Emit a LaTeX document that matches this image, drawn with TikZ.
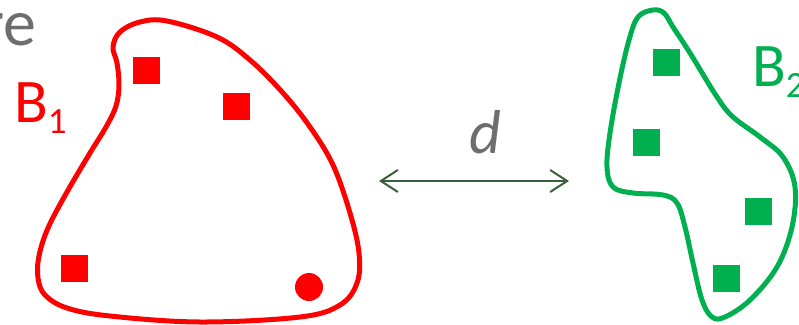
\documentclass[tikz,border=0pt]{standalone}
\usepackage{fontspec}
\setmainfont{Carlito}
\usetikzlibrary{arrows.meta}
\definecolor{bred}{HTML}{FF0000}
\definecolor{bgreen}{HTML}{00B050}
\definecolor{tgray}{HTML}{6E6E6E}
\definecolor{agreen}{HTML}{3A5F3B}
\tikzset{
  blobline/.style={line width=5pt, line join=round},
  pt/.style={rectangle, inner sep=0pt, minimum size=27pt},
  lbl/.style={inner sep=0pt, font=\fontsize{62}{62}\selectfont},
}
\newcommand{\subtxt}[1]{\raisebox{-11pt}{\fontsize{37}{37}\selectfont #1}}
\begin{document}
\begin{tikzpicture}[x=1pt,y=-1pt]
\useasboundingbox (0,0) rectangle (799,324);
% top-left cut text
\node[lbl, text=tgray, anchor=base east, font=\fontsize{66}{66}\selectfont] (re) at (37,45) {re};
% red blob
\draw[blobline, bred] plot[smooth cycle, tension=0.6] coordinates {
 (113,47) (120,32) (140,22) (167,21) (217,37) (250,60) (283,93) (310,127)
 (333,165) (350,213) (359,253) (357,283) (340,305) (300,317) (200,322)
 (110,316) (67,308) (45,295) (38,278) (39,256) (48,228) (67,192) (90,153)
 (106,127) (116,106) (119,85) (117,63)};
\node[pt, fill=bred] (r1) at (146.5,70.5) {};
\node[pt, fill=bred] (r2) at (236.5,106) {};
\node[pt, fill=bred] (r3) at (74.5,268) {};
\node[circle, fill=bred, inner sep=0pt, minimum size=28pt] (r4) at (309,287) {};
\node[lbl, text=bred, anchor=base west] (b1) at (14,122) {B\subtxt{1}};
% green blob
\draw[blobline, bgreen] plot[smooth cycle, tension=0.6] coordinates {
 (653,10) (638,17) (629,40) (619,83) (610,133) (607,167) (613,187) (633,193)
 (663,195) (677,203) (685,227) (693,263) (702,300) (712,317) (725,317)
 (750,300) (777,267) (792,227) (795,187) (783,157) (760,137) (733,117)
 (717,97) (690,53) (673,27) (664,13)};
\node[pt, fill=bgreen] (g1) at (666.5,62.5) {};
\node[pt, fill=bgreen] (g2) at (646.5,142.5) {};
\node[pt, fill=bgreen] (g3) at (758.5,211.5) {};
\node[pt, fill=bgreen] (g4) at (726.5,278.5) {};
\node[lbl, text=bgreen, anchor=base west] (b2) at (752,86) {B\subtxt{2}};
% distance arrow
\coordinate (dl) at (379,181);
\coordinate (dr) at (569,181);
\draw[agreen, line width=2pt, {Straight Barb[length=17pt,width=22pt,line width=2pt]}-{Straight Barb[length=17pt,width=22pt,line width=2pt]}] (dl) -- (dr);
\node[lbl, text=tgray, anchor=base, font=\fontsize{62}{62}\selectfont\itshape] (d) at (485,153) {d};
\end{tikzpicture}
\end{document}
